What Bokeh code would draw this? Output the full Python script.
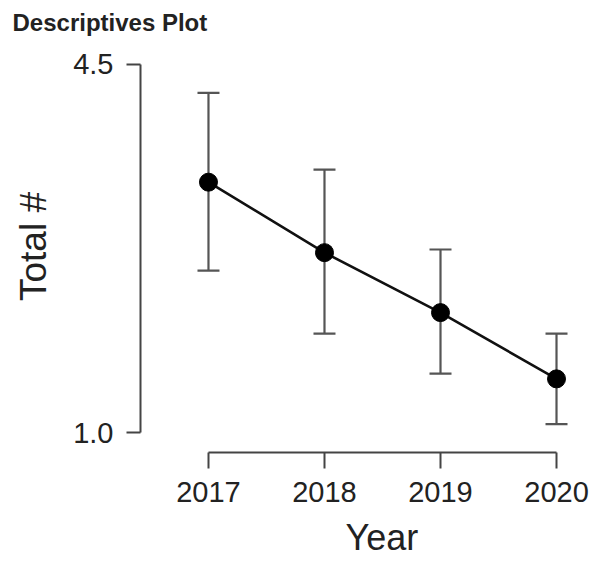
from bokeh.plotting import figure
from bokeh.models import (Range1d, FixedTicker, NumeralTickFormatter, BasicTickFormatter,
                          ColumnDataSource, Whisker, TeeHead, Title)
from bokeh.embed import file_html
from bokeh.resources import INLINE

years = [2017, 2018, 2019, 2020]
means = [3.38, 2.71, 2.14, 1.51]
upper = [4.23, 3.50, 2.74, 1.94]
lower = [2.54, 1.94, 1.56, 1.08]
y_ticks = [1.0, 4.5]
x_ticks = [2017, 2018, 2019, 2020]

FONT = "Liberation Sans"

p = figure(width=592, height=567, output_backend="svg", toolbar_location=None,
           x_range=Range1d(2016.414, 2020.293), y_range=Range1d(0.810, 4.727),
           min_border_left=140, min_border_right=2, min_border_top=40, min_border_bottom=114,
           title="Descriptives Plot")
p.outline_line_color = None
p.grid.visible = False
p.background_fill_color = "white"

p.title.text_font = FONT
p.title.text_font_size = "24px"
p.title.text_font_style = "bold"
p.title.text_color = "#222222"
p.title.offset = -128

src = ColumnDataSource(dict(x=years, m=means, up=upper, lo=lower))

wh = Whisker(base="x", upper="up", lower="lo", source=src,
             line_color="#555555", line_width=2.2,
             upper_head=TeeHead(size=22, line_color="#555555", line_width=2.2),
             lower_head=TeeHead(size=22, line_color="#555555", line_width=2.2))
p.add_layout(wh)

p.line("x", "m", source=src, line_color="#111111", line_width=2.6)
p.scatter("x", "m", source=src, size=18, fill_color="black", line_color="black")

for ax in (p.xaxis[0], p.yaxis[0]):
    ax.axis_line_color = "#444444"
    ax.axis_line_width = 2
    ax.major_tick_line_color = "#444444"
    ax.major_tick_line_width = 2
    ax.major_tick_in = 0
    ax.minor_tick_line_color = None
    ax.major_label_text_font = FONT
    ax.major_label_text_font_size = "29px"
    ax.major_label_text_color = "#222222"
    ax.axis_label_text_font = FONT
    ax.axis_label_text_font_style = "normal"
    ax.axis_label_text_color = "#222222"
    ax.major_label_standoff = 13

xa = p.xaxis[0]
xa.ticker = FixedTicker(ticks=x_ticks)
xa.formatter = BasicTickFormatter(use_scientific=False)
xa.bounds = (2017, 2020)
xa.major_tick_out = 16

ya = p.yaxis[0]
ya.ticker = FixedTicker(ticks=y_ticks)
ya.formatter = NumeralTickFormatter(format="0.0")
ya.bounds = (1.0, 4.5)
ya.major_tick_out = 14
ya.axis_label = "Total #"
ya.axis_label_text_font_size = "37px"
ya.axis_label_standoff = 16

x_title = Title(text="Year", align="left", offset=205, text_font=FONT,
                text_font_size="36px", text_font_style="normal",
                text_color="#222222", standoff=20)
p.add_layout(x_title, "below")

open("out.html", "w").write(file_html(p, INLINE))
